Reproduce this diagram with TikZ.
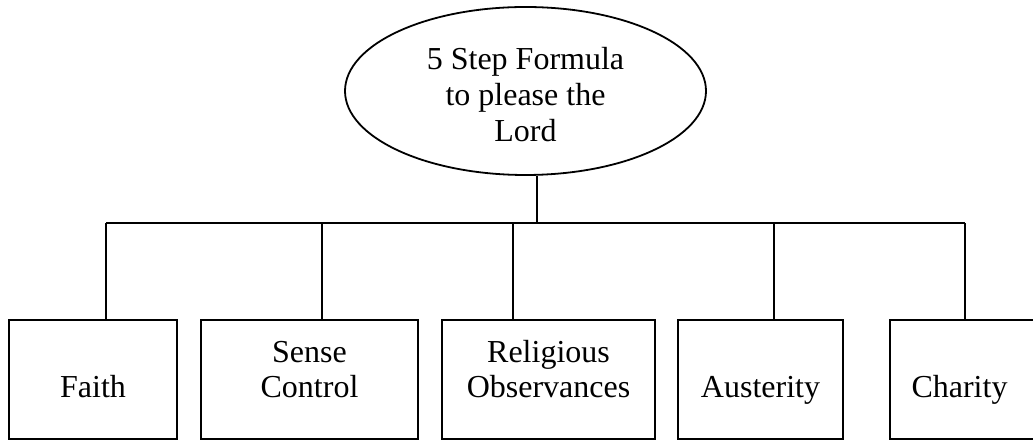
\documentclass[tikz,border=0pt]{standalone}
\usepackage{fontspec}
\setmainfont{Liberation Serif}
\usetikzlibrary{shapes.geometric}
\begin{document}
\begin{tikzpicture}[x=1pt,y=1pt,
  line width=1.8pt,
  txt/.style={align=center,inner sep=0pt,font=\fontsize{32}{35}\selectfont},
  stepbox/.style={draw,rectangle,inner sep=0pt},
  topoval/.style={draw,ellipse,minimum width=361pt,minimum height=168pt,inner sep=0pt}]
\useasboundingbox (0,0) rectangle (1033,441);

% root of the tree
\node[topoval] (root) at (525.5,350) {};
\node[txt,font=\fontsize{32}{36}\selectfont] (roottext) at (525.5,342.5)
  {\strut 5 Step Formula\\\strut to please the\\\strut Lord};

% the five steps
\node[stepbox,minimum width=168pt,minimum height=119pt] (b1) at (93,61.5) {};
\node[stepbox,minimum width=217pt,minimum height=119pt] (b2) at (309.5,61.5) {};
\node[stepbox,minimum width=213pt,minimum height=119pt] (b3) at (548.5,61.5) {};
\node[stepbox,minimum width=165pt,minimum height=119pt] (b4) at (760.5,61.5) {};
\node[stepbox,minimum width=148pt,minimum height=119pt] (b5) at (964,61.5) {};

\node[txt] (t1) at ([yshift=6pt]b1.center) {\strut\\\strut Faith};
\node[txt] (t2) at ([yshift=6pt]b2.center) {\strut Sense\\\strut Control};
\node[txt] (t3) at ([yshift=6pt]b3.center) {\strut Religious\\\strut Observances};
\node[txt] (t4) at ([yshift=6pt]b4.center) {\strut\\\strut Austerity};
\node[txt] (t5) at (959.5,67.5) {\strut\\\strut Charity};

% connector tree
\coordinate (stem) at (537,218);
\coordinate (d1) at (106,218);
\coordinate (d2) at (322,218);
\coordinate (d3) at (513,218);
\coordinate (d4) at (774,218);
\coordinate (d5) at (965,218);

\draw (root.south -| stem) -- (stem);
\draw (d1) -- (d5);
\draw (d1) -- (d1 |- b1.north);
\draw (d2) -- (d2 |- b2.north);
\draw (d3) -- (d3 |- b3.north);
\draw (d4) -- (d4 |- b4.north);
\draw (d5) -- (d5 |- b5.north);
\end{tikzpicture}
\end{document}
